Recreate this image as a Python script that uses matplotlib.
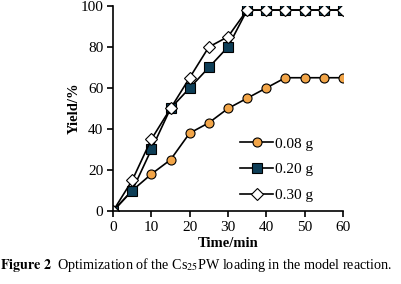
import matplotlib
matplotlib.use('Agg')
import matplotlib.pyplot as plt

time_min = [0, 5, 10, 15, 20, 25, 30, 35, 40, 45, 50, 55, 60]
yield_008 = [0, 10, 18, 25, 38, 43, 50, 55, 60, 65, 65, 65, 65]
yield_020 = [0, 10, 30, 50, 60, 70, 80, 98, 98, 98, 98, 98, 98]
yield_030 = [0, 15, 35, 50, 65, 80, 85, 98, 98, 98, 98, 98, 98]
labels = ['0.08 g', '0.20 g', '0.30 g']

plt.rcParams['font.family'] = ['Liberation Serif', 'DejaVu Serif']
plt.rcParams['mathtext.fontset'] = 'stix'

fig = plt.figure(figsize=(4.01, 2.84), dpi=100)
ax = fig.add_axes([0.282, 0.257, 0.573, 0.722])

ax.plot(time_min, yield_008, '-o', color='black', lw=1.2, ms=6.5,
        mfc='#F2A548', mec='black', mew=0.8, label=labels[0])
ax.plot(time_min, yield_020, '-s', color='black', lw=1.2, ms=6.5,
        mfc='#0E3E57', mec='black', mew=0.8, label=labels[1])
ax.plot(time_min, yield_030, '-D', color='black', lw=1.2, ms=6,
        mfc='white', mec='black', mew=0.8, label=labels[2])

ax.set_xlim(0, 60)
ax.set_ylim(0, 100)
ax.set_xticks(range(0, 61, 10))
ax.set_yticks(range(0, 101, 20))
for s in ['top', 'right']:
    ax.spines[s].set_visible(False)
for s in ['left', 'bottom']:
    ax.spines[s].set_linewidth(1.2)
    ax.spines[s].set_clip_on(False)
ax.tick_params(direction='out', length=4, width=1.2, labelsize=11, pad=3)
ax.set_xlabel('Time/min', fontsize=10.5, fontweight='bold', labelpad=2)
ax.set_ylabel('Yield/%', fontsize=10.5, fontweight='bold', labelpad=0)

ax.legend(loc='lower right', bbox_to_anchor=(0.93, -0.025), frameon=False,
          fontsize=11, handlelength=2.2, handletextpad=0.1, labelspacing=0.8)

fig.text(0.0, 0.035, r'$\mathbf{Figure\ 2}$  Optimization of the Cs$_{25}$PW loading in the model reaction.',
         fontsize=10.2, ha='left', va='bottom')

fig.savefig('out.png', dpi=100)
